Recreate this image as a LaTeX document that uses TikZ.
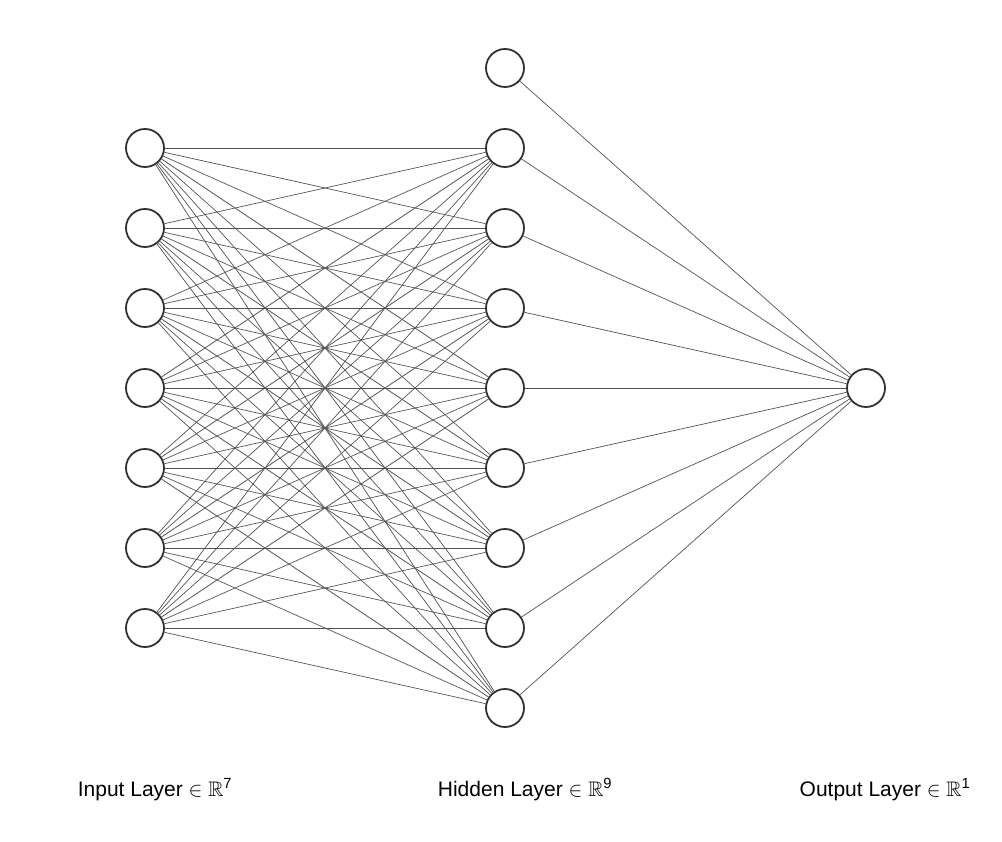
\documentclass[tikz,border=0pt]{standalone}
\usepackage{amssymb}
\usepackage{fontspec}
\setmainfont{Liberation Sans}
\begin{document}
\begin{tikzpicture}[x=1pt,y=-1pt,
  neuron/.style={circle,draw=black!80,line width=1.8pt,fill=white,minimum size=38pt,inner sep=0pt},
  link/.style={draw=black!68,line width=0.7pt},
  lbl/.style={font=\fontsize{21}{25}\selectfont,anchor=base}]
\useasboundingbox (0,0) rectangle (1002,842);
\foreach \i in {1,...,7} {
  \node[neuron] (i\i) at (145,{148+80*(\i-1)}) {};
}
\foreach \j in {0,...,8} {
  \node[neuron] (h\j) at (505,{68+80*\j}) {};
}
\node[neuron] (o) at (866,388) {};
\foreach \i in {1,...,7} {
  \foreach \j in {1,...,8} {
    \draw[link] (i\i) -- (h\j);
  }
}
\foreach \j in {0,...,8} {
  \draw[link] (h\j) -- (o);
}
\node[lbl] (li) at (155,796) {Input Layer $\in\mathbb{R}^{\mathrm{7}}$};
\node[lbl] (lh) at (525,796) {Hidden Layer $\in\mathbb{R}^{\mathrm{9}}$};
\node[lbl] (lo) at (885,796) {Output Layer $\in\mathbb{R}^{\mathrm{1}}$};
\end{tikzpicture}
\end{document}
